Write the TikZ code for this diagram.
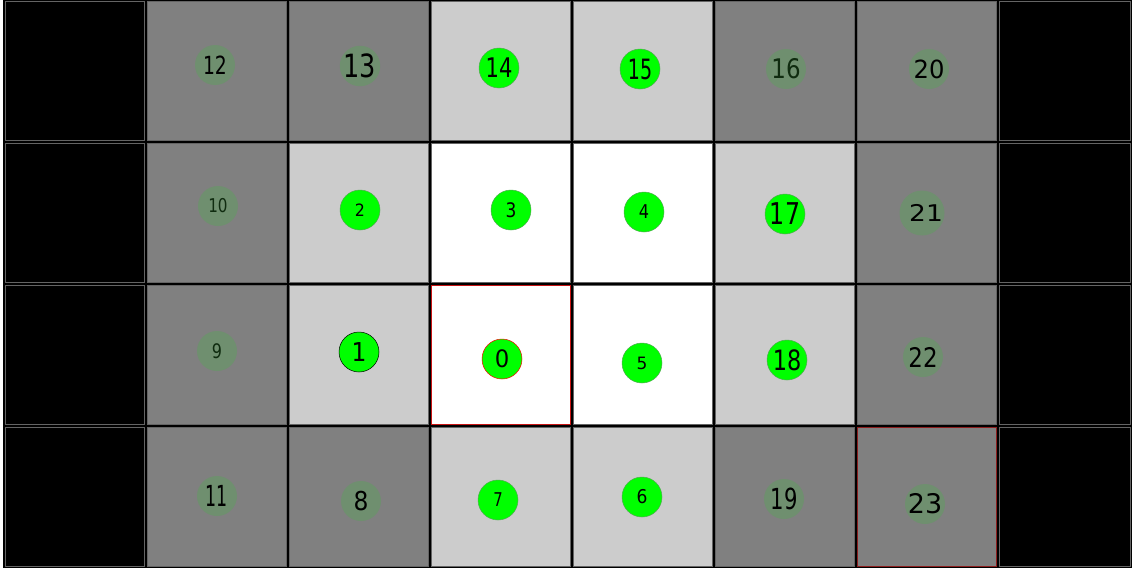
\documentclass[tikz,border=0pt]{standalone}
\usepackage{fontspec}
\setmainfont{DejaVu Sans}
\usepackage{graphicx}
\definecolor{darkcell}{RGB}{128,128,128}
\definecolor{lightcell}{RGB}{204,204,204}
\definecolor{cellrim}{RGB}{100,100,100}
\definecolor{litgreen}{RGB}{0,255,0}
\definecolor{litrim}{RGB}{80,170,80}
\definecolor{dimgreen}{RGB}{111,143,111}
\definecolor{darktext}{RGB}{16,44,16}
\definecolor{redrim}{RGB}{200,20,20}
\definecolor{darkredrim}{RGB}{140,30,30}
\newcommand{\lab}[3]{\fontsize{#1}{#1}\selectfont\scalebox{#2}[1]{#3}}
\newcommand{\gridcell}[4]{%
  \path[draw=#4, line width=1pt, fill=#3]
    ({4+142*#1+1.5},{142*#2+1.5}) rectangle ({min(4+142*(#1+1),1132)-1.5},{142*(#2+1)-1.5});}
\begin{document}
\begin{tikzpicture}[x=1pt,y=-1pt,
  lit/.style={circle,minimum size=40pt,inner sep=0pt,fill=litgreen,draw=litrim,line width=0.5pt},
  dim/.style={circle,minimum size=40pt,inner sep=0pt,fill=dimgreen}]
\useasboundingbox (0,0) rectangle (1132,570);
\fill[white] (0,0) rectangle (1132,570);
\fill[black] (3,0) rectangle (1132,568);
% row 0
\gridcell{0}{0}{black}{cellrim}
\gridcell{1}{0}{darkcell}{cellrim}
\gridcell{2}{0}{darkcell}{cellrim}
\gridcell{3}{0}{lightcell}{cellrim}
\gridcell{4}{0}{lightcell}{cellrim}
\gridcell{5}{0}{darkcell}{cellrim}
\gridcell{6}{0}{darkcell}{cellrim}
\gridcell{7}{0}{black}{cellrim}
% row 1
\gridcell{0}{1}{black}{cellrim}
\gridcell{1}{1}{darkcell}{cellrim}
\gridcell{2}{1}{lightcell}{cellrim}
\gridcell{3}{1}{white}{cellrim}
\gridcell{4}{1}{white}{cellrim}
\gridcell{5}{1}{lightcell}{cellrim}
\gridcell{6}{1}{darkcell}{cellrim}
\gridcell{7}{1}{black}{cellrim}
% row 2
\gridcell{0}{2}{black}{cellrim}
\gridcell{1}{2}{darkcell}{cellrim}
\gridcell{2}{2}{lightcell}{cellrim}
\gridcell{3}{2}{white}{redrim}
\gridcell{4}{2}{white}{cellrim}
\gridcell{5}{2}{lightcell}{cellrim}
\gridcell{6}{2}{darkcell}{cellrim}
\gridcell{7}{2}{black}{cellrim}
% row 3
\gridcell{0}{3}{black}{cellrim}
\gridcell{1}{3}{darkcell}{cellrim}
\gridcell{2}{3}{darkcell}{cellrim}
\gridcell{3}{3}{lightcell}{cellrim}
\gridcell{4}{3}{lightcell}{cellrim}
\gridcell{5}{3}{darkcell}{cellrim}
\gridcell{6}{3}{darkcell}{darkredrim}
\gridcell{7}{3}{black}{cellrim}
% circles row 0
\node[dim] (n12) at (215,65) {\lab{25}{0.75}{12}};
\node[dim] (n13) at (360,66) {\lab{32}{0.8}{13}};
\node[lit] (n14) at (499,68) {\lab{27}{0.78}{14}};
\node[lit] (n15) at (640,69) {\lab{28}{0.68}{15}};
\node[dim,text=darktext] (n16) at (786,69) {\lab{27}{0.85}{16}};
\node[dim] (n20) at (929,69) {\lab{25}{0.97}{20}};
% row 1
\node[dim,text=darktext] (n10) at (218,206) {\lab{19}{0.8}{10}};
\node[lit] (n2) at (360,210) {\lab{17}{0.93}{2}};
\node[lit] (n3) at (511,210) {\lab{20}{0.85}{3}};
\node[lit] (n4) at (644,212) {\lab{19}{0.85}{4}};
\node[lit] (n17) at (785,214) {\lab{30}{0.79}{17}};
\node[dim] (n21) at (922,213) {\hspace*{8pt}\lab{23}{1.15}{21}};
% row 2
\node[dim,text=darktext] (n9) at (217,351) {\lab{20}{0.8}{9}};
\node[lit,draw=black] (n1) at (359,352) {\lab{26}{0.9}{1}};
\node[lit,draw=red] (n0) at (502,359) {\lab{24}{0.95}{0}};
\node[lit] (n5) at (642,363) {\lab{17}{1.0}{5}};
\node[lit] (n18) at (787,360) {\lab{28}{0.8}{18}};
\node[dim] (n22) at (923,357) {\lab{27}{0.85}{22}};
% row 3
\node[dim] (n11) at (217,496) {\lab{29}{0.6}{11}};
\node[dim] (n8) at (361,501) {\lab{26}{0.9}{8}};
\node[lit] (n7) at (498,500) {\lab{19}{0.78}{7}};
\node[lit] (n6) at (642,497) {\lab{19}{0.9}{6}};
\node[dim] (n19) at (784,499) {\lab{29}{0.73}{19}};
\node[dim] (n23) at (925,504) {\lab{27}{1.0}{23}};
\end{tikzpicture}
\end{document}
